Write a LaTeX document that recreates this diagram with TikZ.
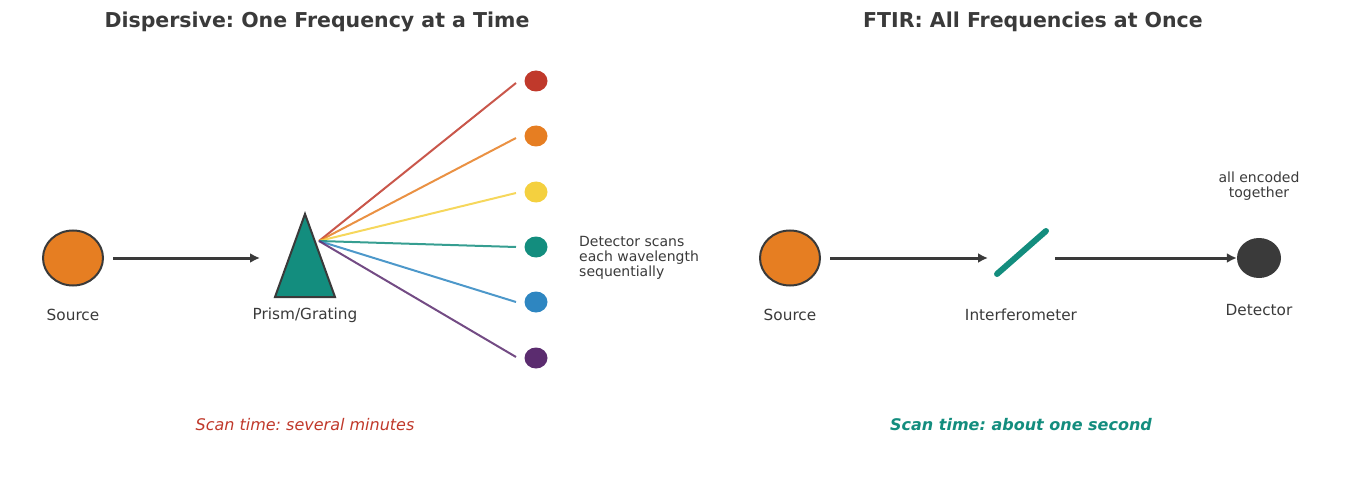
\documentclass[tikz,border=0pt]{standalone}
\usepackage{fontspec}
\setmainfont{DejaVu Sans}
\usetikzlibrary{arrows.meta,shapes.geometric}
\definecolor{ink}{HTML}{3A3A3A}
\definecolor{cred}{HTML}{C0392B}
\definecolor{corange}{HTML}{E67E22}
\definecolor{cyellow}{HTML}{F4D03F}
\definecolor{cteal}{HTML}{138D7E}
\definecolor{cblue}{HTML}{2E86C1}
\definecolor{cpurple}{HTML}{5B2C6F}
\tikzset{
  lbl/.style={text=ink,font=\fontsize{15.3}{18}\selectfont,inner sep=0pt},
  small/.style={text=ink,font=\fontsize{14}{15.3}\selectfont,inner sep=0pt},
  ttl/.style={text=ink,font=\fontsize{20.5}{24}\selectfont\bfseries,inner sep=0pt},
  flow/.style={draw=ink,line width=3pt,-{Latex[length=10pt,width=10pt]}},
  ray/.style={line width=2pt,opacity=0.85},
  dot/.style={ellipse,minimum width=23pt,minimum height=21pt,inner sep=0pt},
}
\begin{document}
\frenchspacing
\begin{tikzpicture}[x=1pt,y=-1pt]
\useasboundingbox (0,0) rectangle (1350,492);
% titles
\node[ttl] (t1) at (317,22) {Dispersive: One Frequency at a Time};
\node[ttl] (t2) at (1033,22) {FTIR: All Frequencies at Once};
% left
\node[ellipse,draw=ink,line width=2pt,fill=corange,minimum width=60pt,minimum height=55pt,inner sep=0pt] (src1) at (73,258) {};
\node[lbl] (srcl1) at (73,315) {Source};
\coordinate (pin) at (260,258);
\draw[flow] (src1.east)++(9,0) -- (pin);
\draw[draw=ink,line width=2pt,fill=cteal,line join=miter] (305,214) -- (335,297) -- (275,297) -- cycle;
\node[lbl] (prl) at (305,315) {Prism/Grating};
\coordinate (fan) at (319,241);
\foreach \y/\c [count=\i] in {81/cred,136/corange,192/cyellow,247/cteal,302/cblue,358/cpurple}{
  \node[dot,fill=\c] (d\i) at (536,\y) {};
}
\foreach \i/\y/\c in {1/83/cred,2/138/corange,3/193/cyellow,4/247/cteal,5/302/cblue,6/357/cpurple}{
  \coordinate (e\i) at (516,\y);
  \draw[ray,draw=\c] (fan) -- (e\i);
}
\node[small,align=left,anchor=west] (dtxt) at (579,258) {Detector scans\\each wavelength\\sequentially};
\node[text=cred,font=\fontsize{16}{18}\selectfont\itshape,inner sep=0pt] (sc1) at (305,425) {Scan time: several minutes};
% right
\node[ellipse,draw=ink,line width=2pt,fill=corange,minimum width=60pt,minimum height=55pt,inner sep=0pt] (src2) at (790,258) {};
\node[lbl] (srcl2) at (790,315) {Source};
\coordinate (ia) at (997,274);
\coordinate (ib) at (1046,231);
\draw[draw=cteal,line width=6pt,line cap=round] (ia) -- (ib);
\coordinate (iin) at (988,258);
\coordinate (iout) at (1055,258);
\draw[flow] (src2.east)++(9,0) -- (iin);
\node[ellipse,fill=ink,minimum width=44pt,minimum height=40pt,inner sep=0pt] (det) at (1259,258) {};
\draw[flow] (iout) -- (det.west);
\node[lbl] (il) at (1021,315) {Interferometer};
\node[lbl] (dl) at (1259,310) {Detector};
\node[small,align=center] (enc) at (1259,186) {all encoded\\together};
\node[text=cteal,font=\fontsize{16}{18}\selectfont\bfseries\itshape,inner sep=0pt] (sc2) at (1021,425) {Scan time: about one second};
\end{tikzpicture}
\end{document}
